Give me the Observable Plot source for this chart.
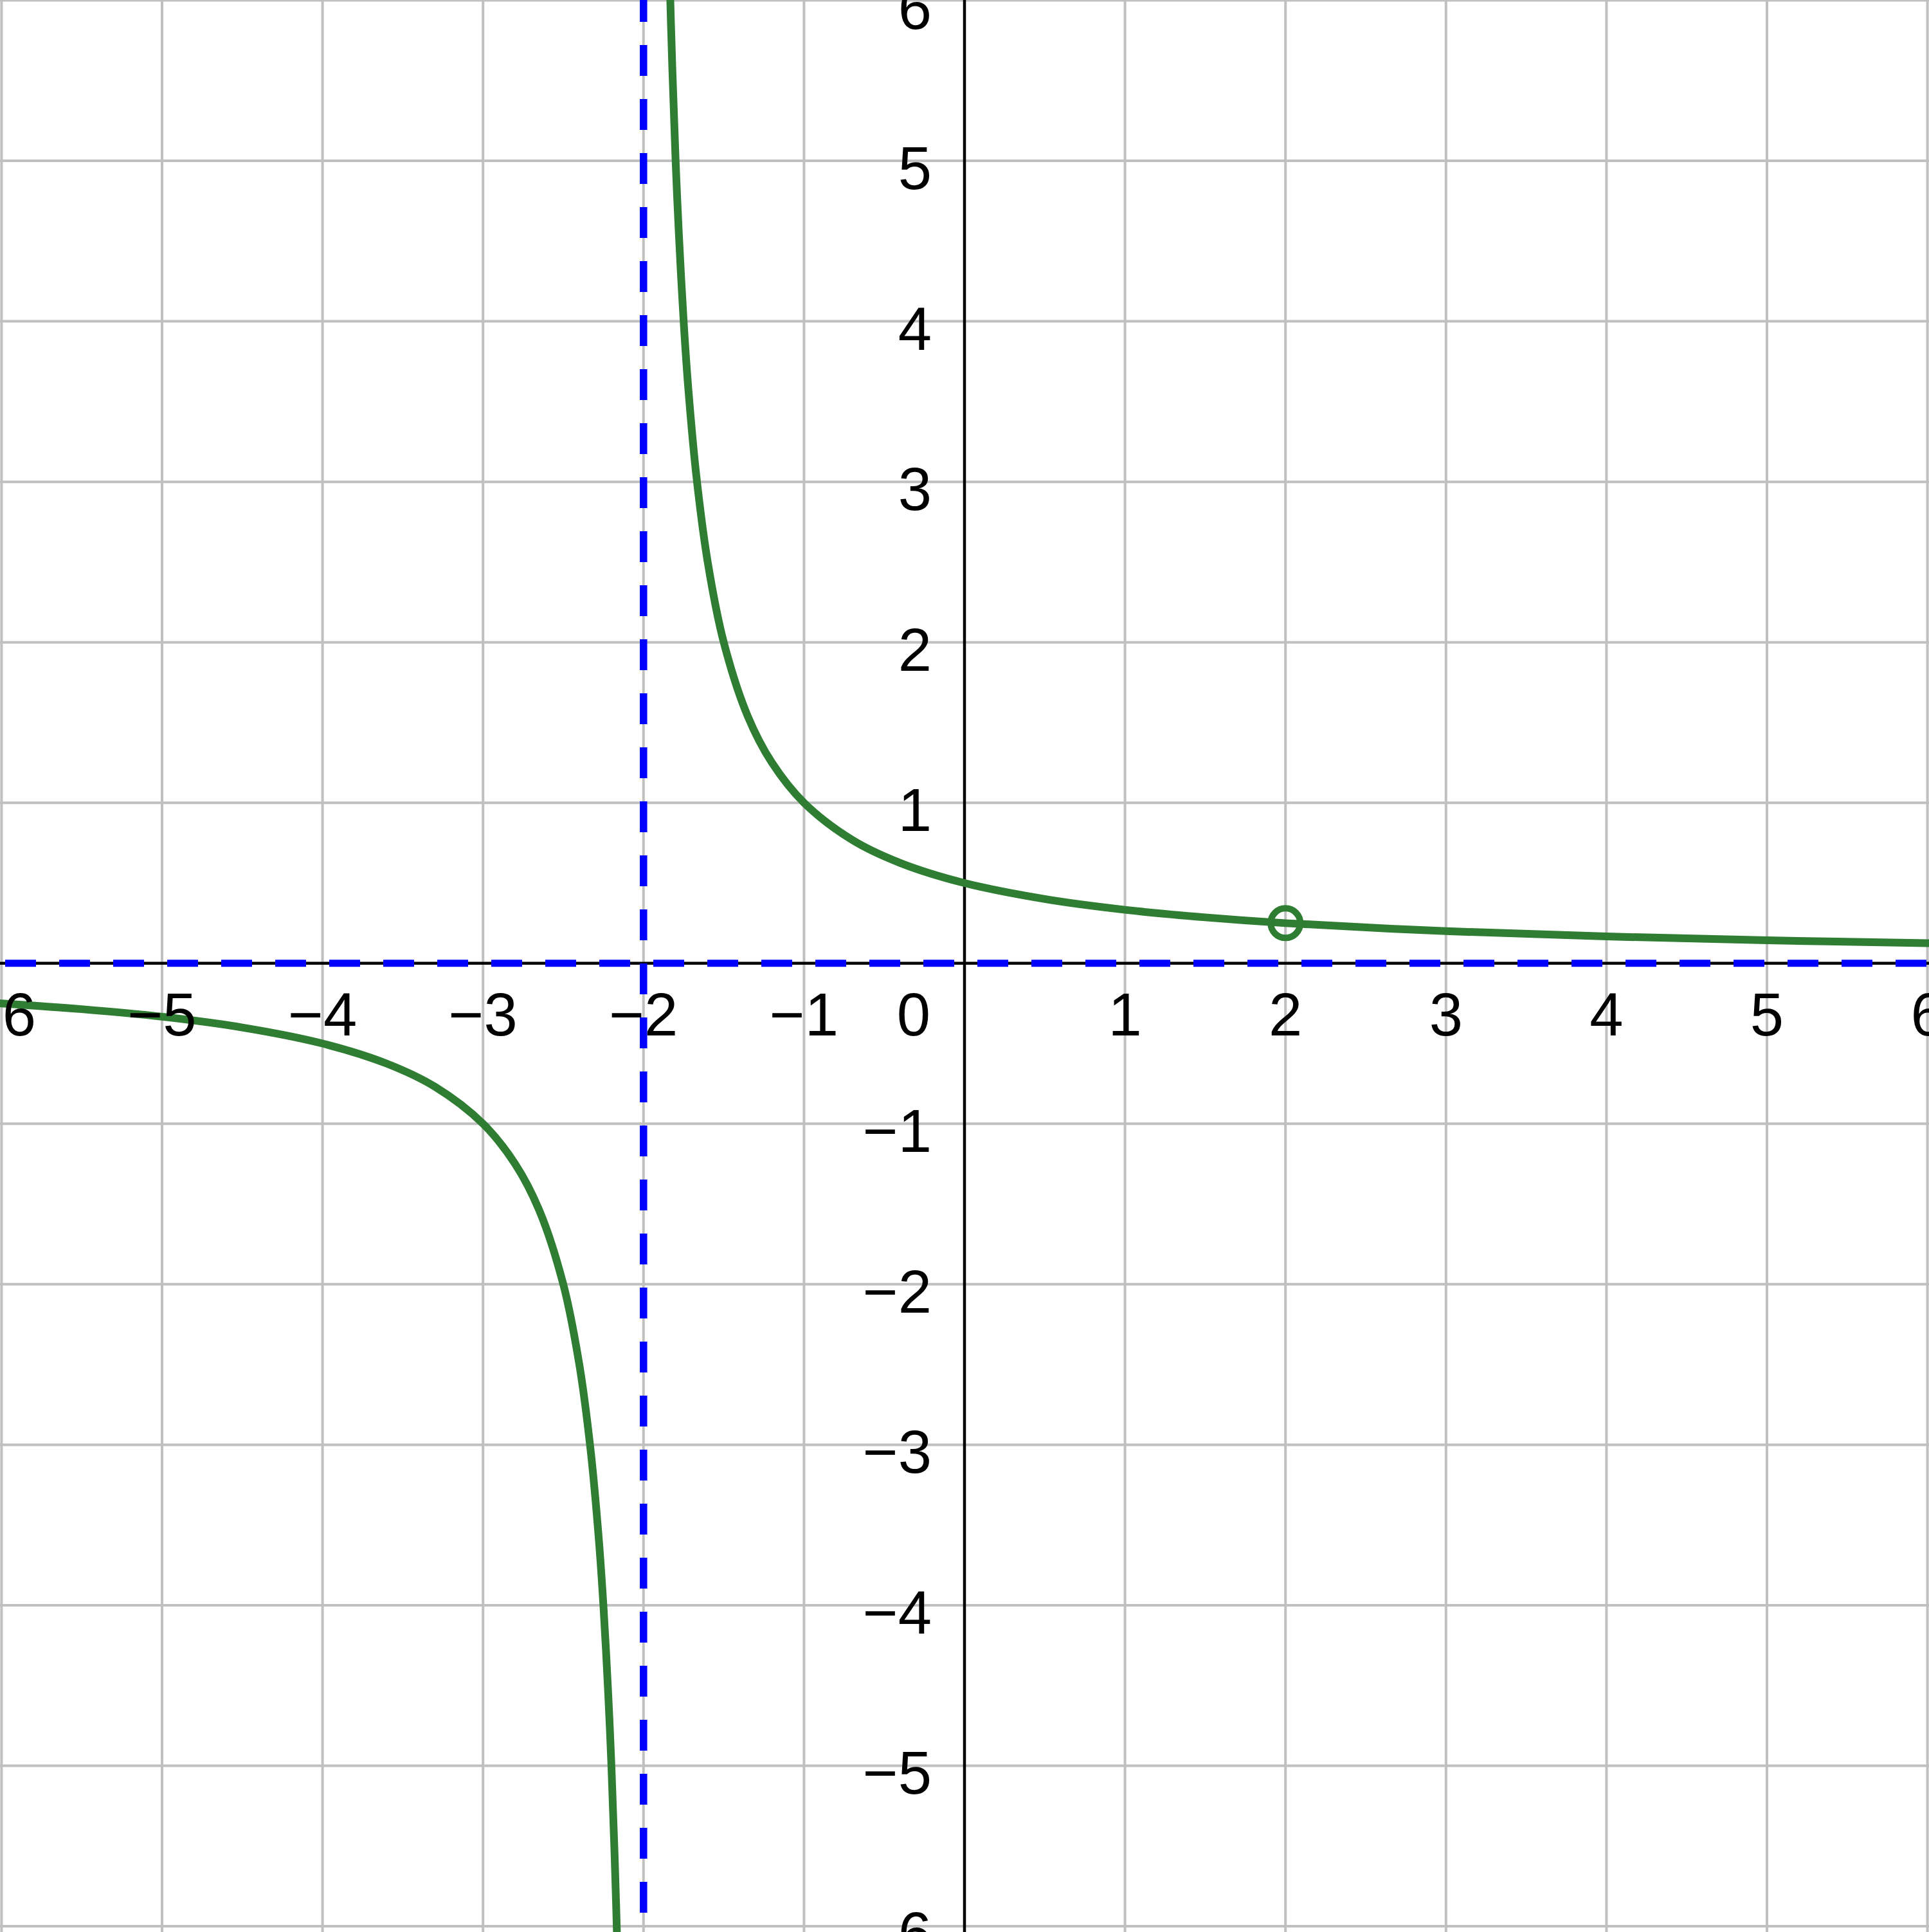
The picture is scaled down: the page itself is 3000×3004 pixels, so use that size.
<!DOCTYPE html>
<html>
<head>
<meta charset="utf-8">
<script src="https://cdn.jsdelivr.net/npm/d3@7"></script>
<script src="https://cdn.jsdelivr.net/npm/@observablehq/plot@0.6"></script>
<style>
  html, body { margin: 0; padding: 0; background: #ffffff; }
  #chart svg { display: block; }
</style>
</head>
<body>
<div id="chart"></div>
<script>
// Grid values and tick labels
const gridValues = [-6, -5, -4, -3, -2, -1, 0, 1, 2, 3, 4, 5, 6];
const xTicks = [-6, -5, -4, -3, -2, -1, 1, 2, 3, 4, 5, 6];
const xTickLabels = ["−6", "−5", "−4", "−3", "−2", "−1", "1", "2", "3", "4", "5", "6"];
const yTicks = [-6, -5, -4, -3, -2, -1, 1, 2, 3, 4, 5, 6];
const yTickLabels = ["−6", "−5", "−4", "−3", "−2", "−1", "1", "2", "3", "4", "5", "6"];
const originLabel = ["0"];

// Asymptotes
const verticalAsymptote = [-2];
const horizontalAsymptote = [0];

// Curve, left branch
const leftX = [-6.1, -6, -5.5, -5, -4.5, -4, -3.6, -3.3, -3, -2.8, -2.65, -2.5, -2.4, -2.33, -2.28, -2.25, -2.22, -2.2, -2.18, -2.16, -2.15];
const leftY = [-0.244, -0.25, -0.286, -0.333, -0.4, -0.5, -0.625, -0.769, -1, -1.25, -1.538, -2, -2.5, -3.03, -3.57, -4, -4.55, -5, -5.56, -6.25, -6.67];

// Curve, right branch
const rightX = [-1.85, -1.84, -1.82, -1.8, -1.78, -1.75, -1.72, -1.67, -1.6, -1.5, -1.35, -1.2, -1, -0.7, -0.4, 0, 0.5, 1, 1.5, 2, 3, 4, 5, 6, 6.1];
const rightY = [6.67, 6.25, 5.56, 5, 4.55, 4, 3.57, 3.03, 2.5, 2, 1.538, 1.25, 1, 0.769, 0.625, 0.5, 0.4, 0.333, 0.286, 0.25, 0.2, 0.167, 0.143, 0.125, 0.123];

// Hole (open circle)
const holeX = [2];
const holeY = [0.25];

const leftData = leftX.map((x, i) => ({x, y: leftY[i]}));
const rightData = rightX.map((x, i) => ({x, y: rightY[i]}));
const holeData = holeX.map((x, i) => ({x, y: holeY[i]}));

const green = "#2e7d32";
const blue = "#0000ff";
const gridColor = "#c0c0c0";
const fontSize = 94;

const chart = Plot.plot({
  width: 3000,
  height: 3004,
  margin: 0,
  x: {domain: [-6.0076, 6.0116], axis: null},
  y: {domain: [-6.038, 6], axis: null},
  style: {background: "#ffffff", fontFamily: "'Liberation Sans', Arial, sans-serif"},
  marks: [
    Plot.ruleX(gridValues, {x: d => d, stroke: gridColor, strokeWidth: 4}),
    Plot.ruleY(gridValues, {y: d => d, stroke: gridColor, strokeWidth: 4}),
    Plot.ruleX([0], {x: d => d, stroke: "#000000", strokeWidth: 4.5}),
    Plot.ruleY([0], {y: d => d, stroke: "#000000", strokeWidth: 4.5}),
    Plot.ruleX(verticalAsymptote, {x: d => d, stroke: blue, strokeWidth: 11.5, strokeDasharray: "48,36", strokeDashoffset: 14}),
    Plot.ruleY(horizontalAsymptote, {y: d => d, stroke: blue, strokeWidth: 11, strokeDasharray: "48,36", strokeDashoffset: 76}),
    Plot.line(leftData, {x: "x", y: "y", stroke: green, strokeWidth: 12, curve: "catmull-rom", strokeLinejoin: "round", clip: true}),
    Plot.line(rightData, {x: "x", y: "y", stroke: green, strokeWidth: 12, curve: "catmull-rom", strokeLinejoin: "round", clip: true}),
    Plot.dot(holeData, {x: "x", y: "y", r: 23, stroke: green, strokeWidth: 10, fill: "none"}),
    Plot.text(xTicks, {x: d => d, y: () => 0, text: (d, i) => xTickLabels[i], fontSize, fill: "#000000", textAnchor: "middle", lineAnchor: "bottom", dy: 112}),
    Plot.text(yTicks, {x: () => 0, y: d => d, text: (d, i) => yTickLabels[i], fontSize, fill: "#000000", textAnchor: "end", lineAnchor: "bottom", dx: -51, dy: 44}),
    Plot.text(originLabel, {x: () => 0, y: () => 0, text: d => d, fontSize, fill: "#000000", textAnchor: "end", lineAnchor: "bottom", dx: -53, dy: 112})
  ]
});
document.getElementById("chart").appendChild(chart);
</script>
</body>
</html>
